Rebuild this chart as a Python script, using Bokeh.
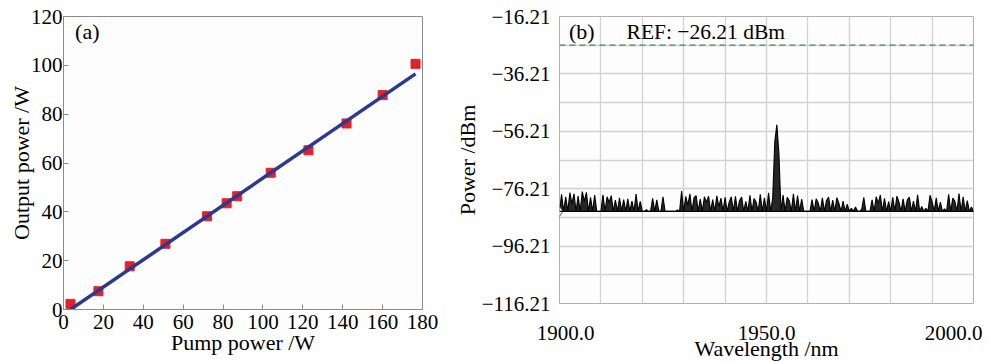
import numpy as np
from bokeh.plotting import figure
from bokeh.layouts import row
from bokeh.models import FixedTicker, Label, Span
from bokeh.embed import file_html
from bokeh.resources import INLINE

# ---------------- data: panel (a) ----------------
pump_power = [3.5, 17.5, 33.2, 51.1, 72.0, 81.8, 87.1, 103.9, 122.8, 141.9, 160.0, 176.5]
output_power = [2.3, 7.5, 17.7, 26.9, 38.2, 43.5, 46.4, 56.0, 65.2, 76.2, 87.8, 100.6]
fit_x = [3.5, 176.5]
fit_y = [0.0, 96.5]
pump_ticks = [0, 20, 40, 60, 80, 100, 120, 140, 160, 180]
output_ticks = [0, 20, 40, 60, 80, 100, 120]

# ---------------- data: panel (b) ----------------
wl_start, wl_stop = 1900.0, 2000.0
power_dbm = [
    -84.1, -78.2, -84.1, -79.0, -84.1, -77.6, -81.5, -78.0, -84.1, -78.8,   # 1900.0-1904.5
    -84.1, -77.2, -80.5, -77.5, -84.1, -79.2, -84.1, -78.4, -84.1, -84.1,   # 1905.0-1909.5
    -84.1, -78.3, -84.1, -79.0, -81.0, -78.6, -84.1, -80.2, -84.1, -79.4,   # 1910.0-1914.5
    -84.1, -80.0, -84.1, -79.7, -84.1, -80.5, -84.1, -78.1, -84.1, -80.6,   # 1915.0-1919.5
    -84.1, -84.1, -83.5, -84.1, -84.1, -79.6, -84.1, -80.1, -84.1, -84.1,   # 1920.0-1924.5
    -79.0, -84.1, -84.1, -84.1, -84.1, -84.1, -84.1, -83.6, -84.1, -77.0,   # 1925.0-1929.5
    -84.1, -78.9, -82.0, -78.0, -84.1, -79.3, -78.6, -84.1, -79.8, -84.1,   # 1930.0-1934.5
    -79.0, -81.0, -78.8, -84.1, -80.0, -84.1, -78.7, -82.5, -79.5, -84.1,   # 1935.0-1939.5
    -79.2, -84.1, -80.8, -79.0, -84.1, -78.9, -84.1, -80.3, -79.1, -84.1,   # 1940.0-1944.5
    -80.6, -84.1, -78.5, -84.1, -79.6, -80.9, -84.1, -78.2, -84.1, -79.4,   # 1945.0-1949.5
    -84.1, -77.6, -84.1, -79.5, -60.0, -53.9, -64.0, -84.1, -78.4, -84.1,   # 1950.0-1954.5
    -79.2, -80.4, -84.1, -78.0, -84.1, -78.6, -84.1, -79.8, -84.1, -84.1,   # 1955.0-1959.5
    -84.1, -84.1, -80.0, -84.1, -79.7, -81.2, -84.1, -79.4, -84.1, -80.3,   # 1960.0-1964.5
    -79.1, -84.1, -80.2, -84.1, -79.3, -81.4, -84.1, -80.5, -84.1, -81.6,   # 1965.0-1969.5
    -84.1, -83.0, -84.1, -82.6, -84.1, -84.1, -83.4, -79.2, -84.1, -84.1,   # 1970.0-1974.5
    -84.1, -80.1, -84.1, -79.0, -81.3, -78.4, -84.1, -79.6, -84.1, -80.7,   # 1975.0-1979.5
    -84.1, -79.2, -84.1, -78.8, -80.9, -84.1, -79.7, -84.1, -80.2, -79.1,   # 1980.0-1984.5
    -84.1, -80.5, -84.1, -78.3, -84.1, -82.4, -84.1, -83.0, -84.1, -78.5,   # 1985.0-1989.5
    -80.8, -84.1, -79.4, -84.1, -80.9, -84.1, -83.2, -84.1, -78.2, -84.1,   # 1990.0-1994.5
    -79.5, -80.6, -84.1, -77.9, -84.1, -79.0, -84.1, -80.4, -84.1, -82.6,   # 1995.0-1999.5
    -84.1,                                                                  # 2000.0
]
wavelength = np.linspace(wl_start, wl_stop, len(power_dbm))
noise_floor = -84.1
ref_level = -26.21
power_ticks = [-116.21, -96.21, -76.21, -56.21, -36.21, -16.21]
power_tick_labels = ["\u2212116.21", "\u221296.21", "\u221276.21", "\u221256.21", "\u221236.21", "\u221216.21"]
power_grid = [-116.21, -106.21, -96.21, -86.21, -76.21, -66.21, -56.21, -46.21, -36.21, -26.21, -16.21]
wl_grid = [1900, 1910, 1920, 1930, 1940, 1950, 1960, 1970, 1980, 1990, 2000]
wl_ticks = [1900.0, 1950.0, 2000.0]
wl_tick_labels = ["1900.0", "1950.0", "2000.0"]

FONT = "Liberation Serif"
GRAY = "#8c8c8c"

# ---------------- panel (a) ----------------
p1 = figure(frame_width=359, frame_height=293, x_range=(0, 180), y_range=(0, 120),
            output_backend="svg", toolbar_location=None,
            min_border_left=63, min_border_right=26, min_border_top=16, min_border_bottom=53)
p1.background_fill_color = "#fdfdfd"
p1.border_fill_color = "white"
p1.outline_line_color = GRAY
p1.grid.visible = False
p1.xaxis.ticker = FixedTicker(ticks=pump_ticks)
p1.yaxis.ticker = FixedTicker(ticks=output_ticks)
p1.xaxis.axis_label = "Pump power /W"
p1.yaxis.axis_label = "Output power /W"
for ax in (p1.xaxis[0], p1.yaxis[0]):
    ax.axis_line_color = GRAY
    ax.major_tick_line_color = GRAY
    ax.major_tick_in = 5
    ax.major_tick_out = 0
    ax.minor_tick_line_color = None
    ax.major_label_text_font = FONT
    ax.major_label_text_font_size = "21px"
    ax.major_label_text_color = "black"
    ax.axis_label_text_font = FONT
    ax.axis_label_text_font_size = "22px"
    ax.axis_label_text_font_style = "normal"
    ax.axis_label_text_color = "black"
p1.xaxis.major_label_standoff = 5
p1.xaxis.axis_label_standoff = -2
p1.yaxis.major_label_standoff = 1
p1.yaxis.axis_label_standoff = -6

p1.scatter(pump_power, output_power, marker="square", size=9,
           fill_color="#e5202a", line_color="#e5202a")
p1.line(fit_x, fit_y, line_color="#2b3990", line_width=3.5)
p1.add_layout(Label(x=5.8, y=113.8, text="(a)", text_font=FONT, text_font_size="22px",
                    text_baseline="middle", text_color="black"))

# ---------------- panel (b) ----------------
p2 = figure(frame_width=414, frame_height=287, x_range=(1900, 2000), y_range=(-116.21, -16.21),
            output_backend="svg", toolbar_location=None,
            min_border_left=111, min_border_right=13, min_border_top=16, min_border_bottom=59)
p2.background_fill_color = "#fdfdfd"
p2.border_fill_color = "white"
p2.outline_line_color = "#b0b0b0"

# tick-label anchor points nudged (in screen pixels) like the analyser's edge-justified labels
px_per_nm = 414 / (wl_stop - wl_start)
label_nudge_px = [6, 0, -20]
wl_label_pos = [t + n / px_per_nm for t, n in zip(wl_ticks, label_nudge_px)]
p2.xaxis.ticker = FixedTicker(ticks=wl_label_pos)
p2.xaxis.major_label_overrides = dict(zip(wl_label_pos, wl_tick_labels))
p2.yaxis.ticker = FixedTicker(ticks=power_ticks)
p2.yaxis.major_label_overrides = dict(zip(power_ticks, power_tick_labels))
p2.xgrid.ticker = FixedTicker(ticks=wl_grid)
p2.ygrid.ticker = FixedTicker(ticks=power_grid)
p2.grid.grid_line_color = "#d2d2d2"
p2.grid.grid_line_width = 1.3
p2.xaxis.axis_label = "Wavelength /nm"
p2.yaxis.axis_label = "Power /dBm"
for ax in (p2.xaxis[0], p2.yaxis[0]):
    ax.axis_line_color = None
    ax.major_tick_line_color = None
    ax.minor_tick_line_color = None
    ax.major_label_text_font = FONT
    ax.major_label_text_font_size = "21px"
    ax.major_label_text_color = "black"
    ax.axis_label_text_font = FONT
    ax.axis_label_text_font_size = "22px"
    ax.axis_label_text_font_style = "normal"
    ax.axis_label_text_color = "black"
p2.yaxis.major_label_standoff = 3
p2.yaxis.axis_label_standoff = -1
p2.xaxis.major_label_standoff = 16
p2.xaxis.axis_label_standoff = -7

p2.add_layout(Span(location=ref_level, dimension="width", line_color="#3f8a5a",
                   line_dash="6 4", line_width=1.2))
p2.add_layout(Span(location=noise_floor, dimension="width", line_color="black", line_width=1.2))
p2.varea(x=wavelength, y1=noise_floor, y2=power_dbm, fill_color="black", fill_alpha=0.85)
p2.line(wavelength, power_dbm, line_color="black", line_width=1.1)
p2.scatter([wl_start], [noise_floor], marker="diamond", size=10, fill_color="white",
           line_color="#555555", line_width=1)

p2.add_layout(Label(x=1902.3, y=-21.5, text="(b)", text_font=FONT, text_font_size="22px",
                    text_baseline="middle", text_color="black"))
p2.add_layout(Label(x=1916.2, y=-21.5, text="REF: \u221226.21 dBm", text_font=FONT,
                    text_font_size="21.5px", text_baseline="middle", text_color="black"))

layout = row(p1, p2)
open("out.html", "w").write(file_html(layout, INLINE))
